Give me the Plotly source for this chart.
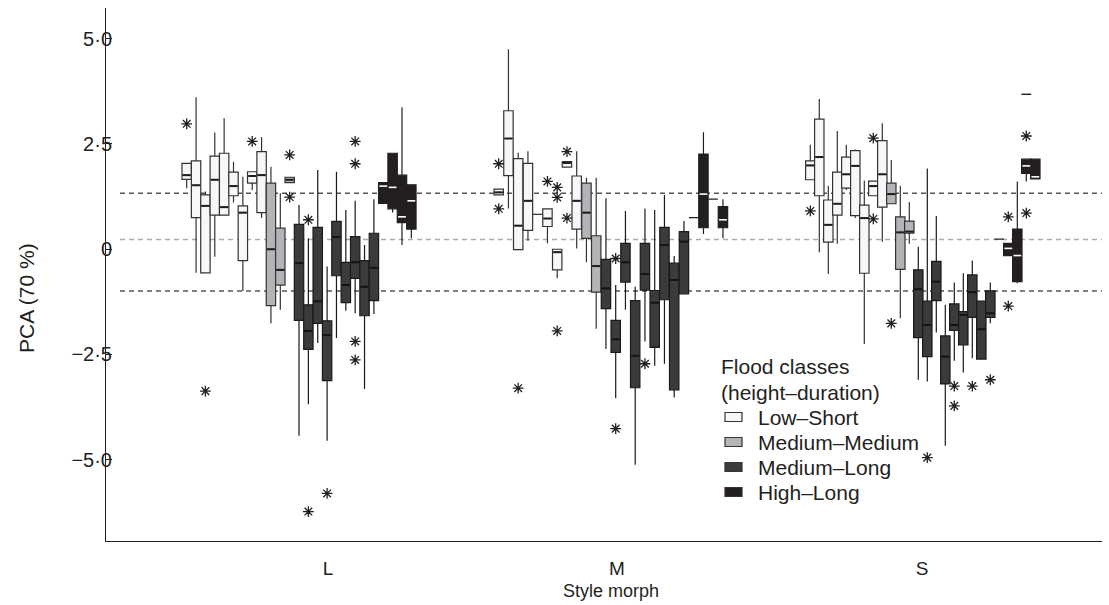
import plotly.graph_objects as go

class_names = ["Low–Short", "Medium–Medium", "Medium–Long", "High–Long"]
group_names = ["L", "M", "S"]

# ---------------- L morph ----------------
L_counts = [9, 3, 9, 4]
L_q1 = [1.66, 0.75, -0.56, 0.81, 0.81, 1.27, -0.27, 1.57, 0.87,
        -1.34, -0.85, 1.58,
        -1.69, -2.38, -1.76, -3.12, -0.63, -1.27, -0.69, -1.58, -1.22,
        1.09, 0.96, 0.63, 0.48]
L_med = [1.76, 1.52, 1.03, 1.65, 1.00, 1.50, 0.87, 1.74, 1.76,
         0.00, -0.49, 1.65,
         -0.33, -1.94, -1.24, -2.04, 0.29, -0.85, -0.31, -0.89, -0.44,
         1.50, 1.47, 0.77, 1.15]
L_q3 = [2.04, 2.10, 1.29, 2.21, 2.28, 1.83, 1.03, 1.84, 2.32,
        1.57, 0.50, 1.71,
        0.59, -1.32, 0.52, -1.70, 0.66, -0.31, 0.30, -0.27, 0.38,
        1.58, 2.28, 1.76, 1.53]
L_lo = [1.45, -0.56, -0.56, -0.18, 0.81, 1.11, -0.99, 1.41, 0.74,
        -1.76, -1.44, 1.58,
        -4.43, -3.68, -2.23, -4.55, -2.11, -1.46, -1.52, -3.32, -1.54,
        1.09, 0.87, 0.10, 0.26]
L_hi = [2.04, 3.61, 1.37, 2.77, 3.11, 2.08, 1.72, 1.84, 2.66,
        1.96, 1.33, 1.71,
        1.05, 0.26, 1.88, -0.41, 1.84, 0.93, 1.15, 0.10, 1.19,
        1.58, 2.28, 3.37, 1.53]
L_out = [[2.98], [], [-3.37], [], [], [], [], [2.56], [],
         [], [], [2.24, 1.24],
         [], [0.70, -6.23], [], [-5.80], [], [], [2.56, 2.03, -2.19, -2.63], [], [],
         [], [], [], []]

# ---------------- M morph ----------------
M_counts = [9, 2, 9, 4]
M_q1 = [1.29, 1.75, -0.01, 0.45, 0.83, 0.54, -0.49, 1.95, 0.48,
        0.26, -1.02,
        -1.41, -2.45, -0.78, -3.29, -0.97, -2.33, -1.20, -3.34, -1.06,
        0.75, 0.51, 1.19, 0.51]
M_med = [1.35, 2.63, 0.56, 1.15, 0.83, 0.73, -0.07, 2.05, 1.15,
         0.87, -0.40,
         -0.93, -2.14, -0.31, -2.53, -0.59, -1.27, 0.10, -0.73, 0.18,
         0.75, 1.31, 1.19, 0.70]
M_q3 = [1.43, 3.29, 2.15, 2.04, 0.83, 0.96, 0.00, 2.08, 1.74,
        1.57, 0.32,
        -0.24, -1.69, 0.14, -1.22, 0.14, -0.98, 0.52, -0.33, 0.42,
        0.75, 2.26, 1.19, 1.01]
M_lo = [1.29, 0.97, -0.01, 0.20, 0.83, 0.14, -0.69, 1.95, 0.02,
        -0.31, -1.89,
        -2.37, -3.54, -1.44, -5.12, -2.19, -2.77, -2.72, -3.52, -1.06,
        0.75, 0.36, 1.19, 0.26]
M_hi = [1.43, 4.75, 2.29, 2.33, 0.83, 0.96, 0.00, 2.08, 2.33,
        1.70, 1.70,
        1.21, -0.85, 0.91, -0.89, 0.96, 0.93, 1.29, -0.16, 0.67,
        0.75, 2.78, 1.19, 1.19]
M_out = [[2.03, 0.96], [], [-3.30], [], [], [1.61], [1.47, 1.23, -1.94], [2.32, 0.74], [],
         [], [],
         [], [-0.22, -4.26], [], [], [-2.72], [], [], [], [],
         [], [], [], []]

# ---------------- S morph ----------------
S_counts = [9, 3, 9, 5]
S_q1 = [1.65, 1.27, 0.17, 0.81, 1.45, 0.80, -0.57, 1.27, 1.00,
        1.08, -0.48, 0.38,
        -2.10, -2.55, -1.22, -3.20, -1.93, -2.27, -1.62, -2.61, -1.62,
        0.24, -0.15, -0.77, 1.80, 1.67]
S_med = [1.99, 2.19, 0.58, 1.08, 1.78, 1.98, 0.74, 1.50, 1.78,
         1.31, 0.40, 0.42,
         -0.95, -1.80, -0.77, -2.55, -1.80, -1.56, -1.02, -1.90, -1.52,
         0.24, 0.02, -0.15, 1.98, 1.72]
S_q3 = [2.10, 3.09, 1.17, 1.83, 2.19, 2.34, 1.05, 1.62, 2.58,
        1.57, 0.77, 0.67,
        -0.49, -1.23, -0.29, -2.06, -1.30, -1.48, -0.61, -1.23, -0.99,
        0.24, 0.14, 0.48, 2.14, 2.14]
S_lo = [1.65, -0.07, -0.59, 0.13, 1.41, 0.74, -2.25, 1.27, 0.18,
        1.08, -1.64, 0.13,
        -3.10, -3.14, -1.98, -4.67, -2.65, -2.93, -2.59, -2.61, -1.76,
        0.24, -0.15, -0.81, 1.61, 1.67]
S_hi = [2.48, 3.57, 1.51, 2.81, 2.48, 2.37, 1.63, 1.62, 2.99,
        2.12, 1.51, 1.12,
        0.06, 1.92, 0.79, -1.32, -0.79, -0.57, -0.27, -1.23, -0.79,
        0.24, 0.14, 1.61, 2.14, 2.14]
S_out = [[0.91], [], [], [], [], [], [], [2.64, 0.72], [],
         [-1.76], [], [],
         [], [-4.95], [], [], [-3.25, -3.72], [], [-3.25], [], [-3.10],
         [], [0.77, -1.35], [], [2.69, 0.86], []]
S_dash_idx = [24]
S_dash_val = [3.68]

ref_lines = [1.33, 0.23, -0.99]
y_ticks = [-5.0, -2.5, 0.0, 2.5, 5.0]
y_ticktext = ["−5·0", "−2·5", "0", "2·5", "5·0"]
legend_title = ["Flood classes", "(height–duration)"]

# ---------------- layout constants ----------------
group_start = [186.7, 498.7, 810.3]
group_pitch = [9.36, 9.75, 9.0]
group_tick = [328, 617, 922]
box_w = 9.4
fills = ["#f7f7f7", "#b3b4b8", "#3b3b3b", "#231f20"]
edges = ["#333333", "#333333", "#1a1a1a", "#231f20"]
med_cols = ["#1e1e1e", "#1e1e1e", "#141414", "#ffffff"]
ref_colors = ["#555555", "#aaaaaa", "#555555"]
txt = "#231f20"
FONT = "Liberation Sans, Arial, sans-serif"

ML, MR, MT, MB = 106, 7, 8, 64
W, H = 1109, 605
W_plot = W - ML - MR
H_plot = H - MT - MB


def px_x(p):
    return (p - ML) / W_plot


def px_y(p):
    return (H - MB - p) / H_plot


groups = [
    (L_counts, L_q1, L_med, L_q3, L_lo, L_hi, L_out),
    (M_counts, M_q1, M_med, M_q3, M_lo, M_hi, M_out),
    (S_counts, S_q1, S_med, S_q3, S_lo, S_hi, S_out),
]

per_class = [dict(x=[], q1=[], med=[], q3=[], lo=[], hi=[], mx=[], my=[])
             for _ in class_names]
out_x, out_y = [], []
positions = []
for g, (counts, q1, med, q3, lo, hi, out) in enumerate(groups):
    idx = 0
    gpos = []
    for c, n in enumerate(counts):
        for _ in range(n):
            pos = group_start[g] + idx * group_pitch[g]
            gpos.append(pos)
            d = per_class[c]
            d["x"].append(pos); d["q1"].append(q1[idx]); d["med"].append(med[idx])
            d["q3"].append(q3[idx]); d["lo"].append(lo[idx]); d["hi"].append(hi[idx])
            for v in out[idx]:
                out_x.append(pos); out_y.append(v)
            if q3[idx] > q1[idx]:
                d["mx"] += [pos - box_w / 2 + 0.8, pos + box_w / 2 - 0.8, None]
                d["my"] += [med[idx], med[idx], None]
            idx += 1
    positions.append(gpos)

fig = go.Figure()
for c, name in enumerate(class_names):
    d = per_class[c]
    fig.add_trace(go.Box(
        name=name, x=d["x"], q1=d["q1"], median=d["med"], q3=d["q3"],
        lowerfence=d["lo"], upperfence=d["hi"], width=box_w,
        fillcolor=fills[c], line=dict(color=edges[c], width=1.2),
        boxpoints=False, whiskerwidth=0, hoverinfo="skip", showlegend=False,
    ))
    fig.add_trace(go.Scatter(x=d["mx"], y=d["my"], mode="lines",
                             line=dict(color=med_cols[c], width=2 if c < 3 else 1.6),
                             showlegend=False, hoverinfo="skip"))

fig.add_trace(go.Scatter(x=out_x, y=out_y, mode="markers",
                         marker=dict(symbol="asterisk-open", size=9, color=txt,
                                     line=dict(color=txt, width=1.3)),
                         showlegend=False, hoverinfo="skip"))

dash_x = [positions[2][i] for i in S_dash_idx]
fig.add_trace(go.Scatter(x=dash_x, y=S_dash_val, mode="markers",
                         marker=dict(symbol="line-ew-open", size=7, color=txt,
                                     line=dict(color=txt, width=1.4)),
                         showlegend=False, hoverinfo="skip"))

for v, col in zip(ref_lines, ref_colors):
    fig.add_shape(type="line", xref="x", yref="y", x0=120, x1=1102, y0=v, y1=v,
                  line=dict(color=col, width=1.5, dash="5px,4px"), layer="below")

annotations = [
    dict(text="Style morph", x=px_x(611), y=px_y(591), xref="paper", yref="paper",
         xanchor="center", yanchor="middle", showarrow=False,
         font=dict(size=18, color=txt)),
    dict(text="PCA (70 %)", x=px_x(26), y=px_y(298), xref="paper", yref="paper",
         xanchor="center", yanchor="middle", textangle=-90, showarrow=False,
         font=dict(size=21, color=txt)),
]

# legend (manual, placed to match the reference)
title_y = [366, 392]
for t, yy in zip(legend_title, title_y):
    annotations.append(dict(text=t, x=px_x(719), y=px_y(yy), xref="paper", yref="paper",
                            xanchor="left", yanchor="middle", showarrow=False,
                            font=dict(size=21, color=txt)))
item_y = [417, 442, 467, 492]
for c, (name, yy) in enumerate(zip(class_names, item_y)):
    annotations.append(dict(text=name, x=px_x(756), y=px_y(yy), xref="paper", yref="paper",
                            xanchor="left", yanchor="middle", showarrow=False,
                            font=dict(size=21, color=txt)))
    fig.add_shape(type="rect", xref="paper", yref="paper",
                  x0=px_x(725), x1=px_x(742), y0=px_y(yy + 4.5), y1=px_y(yy - 4.5),
                  fillcolor=fills[c], line=dict(color="#333333", width=1.2))

fig.update_layout(
    width=W, height=H, autosize=False,
    margin=dict(l=ML, r=MR, t=MT, b=MB, pad=0),
    paper_bgcolor="white", plot_bgcolor="white",
    font=dict(family=FONT, size=18, color=txt),
    showlegend=False,
    xaxis=dict(range=[106, 1102], type="linear", tickmode="array",
               tickvals=group_tick, ticktext=group_names,
               showline=True, linecolor=txt, linewidth=1, ticks="",
               showgrid=False, zeroline=False, tickfont=dict(size=19),
               ticklabelstandoff=10),
    yaxis=dict(range=[-6.93, 5.73], tickmode="array", tickvals=y_ticks,
               ticktext=y_ticktext, showline=True, linecolor=txt, linewidth=1,
               ticks="inside", ticklen=6, tickcolor=txt, showgrid=False,
               zeroline=False, tickfont=dict(size=20), ticklabelstandoff=-11),
    annotations=annotations,
)

fig.write_html("out.html", include_plotlyjs=True,
               config={"displayModeBar": False},
               post_script="document.body.style.margin='0';")
